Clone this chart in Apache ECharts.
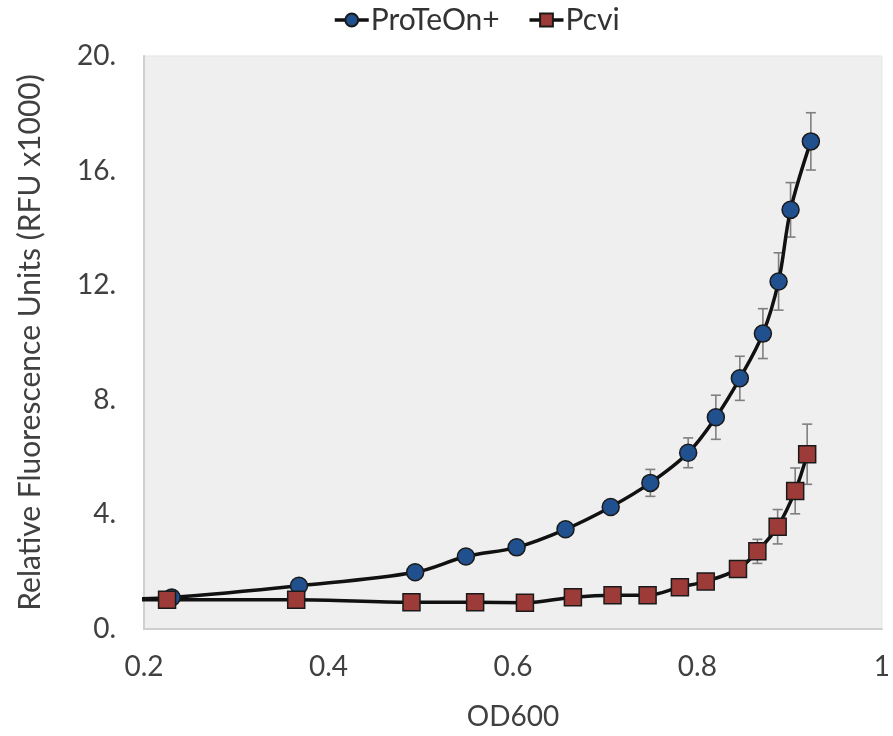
<!DOCTYPE html>
<html>
<head>
<meta charset="utf-8">
<script src="https://cdn.jsdelivr.net/npm/echarts@6/dist/echarts.min.js"></script>
<style>html,body{margin:0;padding:0;background:#fff;}#c{width:893px;height:736px;}</style>
</head>
<body>
<div id="c"></div>
<script>
// OD600 values (first point lies left of the axis start, as in the original, and is clipped)
const proteonX = [0.17, 0.230, 0.368, 0.494, 0.549, 0.604, 0.657, 0.706, 0.749, 0.790, 0.820, 0.846, 0.871, 0.888, 0.901, 0.923];
const proteonY = [1.05, 1.10, 1.51, 1.98, 2.53, 2.85, 3.48, 4.26, 5.10, 6.15, 7.39, 8.75, 10.31, 12.13, 14.63, 17.02];
const proteonErr = [0, 0.05, 0.05, 0.05, 0.05, 0.08, 0.12, 0.2, 0.47, 0.52, 0.77, 0.77, 0.87, 1.0, 0.95, 1.0];

const pcviX = [0.17, 0.225, 0.365, 0.490, 0.559, 0.613, 0.665, 0.708, 0.746, 0.781, 0.809, 0.844, 0.865, 0.887, 0.906, 0.919];
const pcviY = [1.02, 1.02, 1.02, 0.93, 0.93, 0.92, 1.11, 1.18, 1.18, 1.46, 1.66, 2.09, 2.71, 3.57, 4.82, 6.10];
const pcviErr = [0, 0.03, 0.03, 0.03, 0.03, 0.03, 0.05, 0.05, 0.08, 0.1, 0.12, 0.2, 0.42, 0.6, 0.8, 1.05];

const xTicks = [0.2, 0.4, 0.6, 0.8, 1];
const yTicks = [0, 4, 8, 12, 16, 20];

const FONT = 'Lato, "Open Sans", "Liberation Sans", sans-serif';
const FS = 28;

function lineData(xs, ys) {
  return xs.map((x, i) => {
    const item = { value: [x, ys[i]] };
    if (x < xTicks[0]) item.symbol = 'none';
    return item;
  });
}
function errData(xs, ys, es) {
  const out = [];
  xs.forEach((x, i) => { if (x >= xTicks[0] && es[i] > 0) out.push([x, ys[i] - es[i], ys[i] + es[i]]); });
  return out;
}
function errRender(params, api) {
  const x = api.value(0);
  const lo = api.coord([x, api.value(1)]);
  const hi = api.coord([x, api.value(2)]);
  const w = 5;
  const st = { stroke: '#7f7f7f', lineWidth: 1.6 };
  return {
    type: 'group',
    children: [
      { type: 'line', shape: { x1: lo[0], y1: lo[1], x2: hi[0], y2: hi[1] }, style: st },
      { type: 'line', shape: { x1: lo[0] - w, y1: lo[1], x2: lo[0] + w, y2: lo[1] }, style: st },
      { type: 'line', shape: { x1: hi[0] - w, y1: hi[1], x2: hi[0] + w, y2: hi[1] }, style: st }
    ]
  };
}

const chart = echarts.init(document.getElementById('c'), null, { renderer: 'canvas' });
chart.setOption({
  animation: false,
  backgroundColor: '#ffffff',
  textStyle: { fontFamily: FONT },
  legend: {
    top: 0,
    left: 328,
    itemWidth: 34,
    itemHeight: 16,
    itemGap: 28,
    lineStyle: { width: 3.5, color: '#111111' },
    textStyle: { fontSize: 30, color: '#333333', fontFamily: FONT, padding: [0, 0, 0, -3] },
    data: ['ProTeOn+', 'Pcvi']
  },
  grid: {
    left: 144, right: 6, top: 56, bottom: 106,
    show: true, backgroundColor: '#efefef', borderColor: '#e4e4e4', borderWidth: 1
  },
  xAxis: {
    type: 'value', min: 0.2, max: 1, interval: 0.2,
    name: 'OD600', nameLocation: 'middle', nameGap: 74,
    nameTextStyle: { fontSize: FS, color: '#404040', fontFamily: FONT },
    axisLine: { show: true, lineStyle: { color: '#cfcfcf', width: 2 } },
    axisTick: { show: false },
    splitLine: { show: false },
    axisLabel: { fontSize: FS, color: '#404040', margin: 24, fontFamily: FONT,
      formatter: v => String(Math.round(v * 10) / 10) }
  },
  yAxis: {
    type: 'value', min: 0, max: 20, interval: 4,
    name: 'Relative Fluorescence Units (RFU x1000)', nameLocation: 'middle', nameGap: 99, nameRotate: 90,
    nameTextStyle: { fontSize: 30, color: '#404040', fontFamily: FONT },
    axisLine: { show: true, lineStyle: { color: '#cfcfcf', width: 2 } },
    axisTick: { show: false },
    splitLine: { show: false },
    axisLabel: { fontSize: FS, color: '#404040', margin: 28, fontFamily: FONT,
      formatter: v => yTicks.indexOf(v) >= 0 ? v + '.' : '' }
  },
  series: [
    { type: 'custom', name: 'errP', renderItem: errRender, data: errData(proteonX, proteonY, proteonErr), z: 1, silent: true },
    { type: 'custom', name: 'errC', renderItem: errRender, data: errData(pcviX, pcviY, pcviErr), z: 1, silent: true },
    {
      name: 'ProTeOn+', type: 'line', smooth: 0.35, clip: true, z: 3,
      data: lineData(proteonX, proteonY),
      symbol: 'circle', symbolSize: 17,
      lineStyle: { color: '#111111', width: 3.5 },
      itemStyle: { color: '#21508e', borderColor: '#1a1a1a', borderWidth: 1.5 }
    },
    {
      name: 'Pcvi', type: 'line', smooth: 0.35, clip: true, z: 3,
      data: lineData(pcviX, pcviY),
      symbol: 'rect', symbolSize: 17,
      lineStyle: { color: '#111111', width: 3.5 },
      itemStyle: { color: '#9c3b38', borderColor: '#1a1a1a', borderWidth: 1.5 }
    }
  ]
});
</script>
</body>
</html>
